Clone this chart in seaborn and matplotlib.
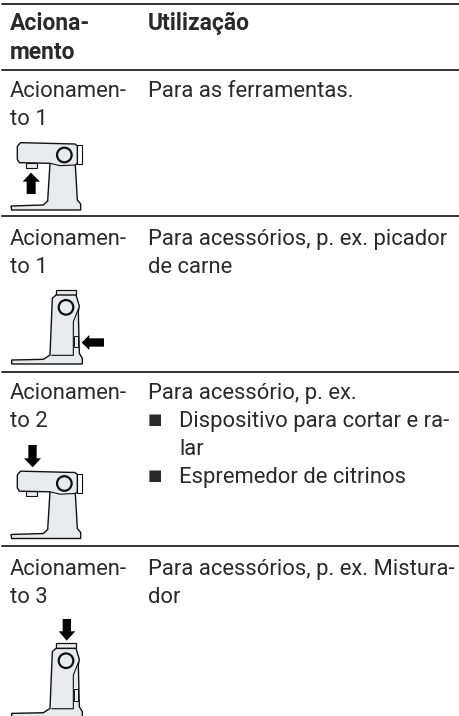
from matplotlib import pyplot as plt
from matplotlib.patches import Circle, Polygon, Rectangle
import pandas as pd
import seaborn as sns

# table content
header_left = ["Aciona-", "mento"]
header_right = ["Utilização"]
left_labels = [["Acionamen-", "to 1"], ["Acionamen-", "to 1"], ["Acionamen-", "to 2"], ["Acionamen-", "to 3"]]
right_labels = [
    ["Para as ferramentas."],
    ["Para acessórios, p. ex. picador", "de carne"],
    ["Para acessório, p. ex."],
    ["Para acessórios, p. ex. Mistura-", "dor"],
]
bullet_labels = ["Dispositivo para cortar e ra-", "lar", "Espremedor de citrinos"]
bullet_flags = [True, False, True]

# layout in pixels
rule_y = [4, 70, 216, 372, 546]
row_base = [97, 245, 399, 575]
line_gap = 29

INK = "#2a2a2a"
FILL = "#e9eaee"

sns.set_theme(style="white")
plt.rcParams["font.family"] = ["Roboto", "DejaVu Sans"]

fig, ax = plt.subplots(figsize=(4.6, 7.16), dpi=100)
ax.set_position([0, 0, 1, 1])

rules = pd.DataFrame({
    "x": [2, 460] * len(rule_y),
    "y": [y for y in rule_y for _ in range(2)],
    "rule": [i for i in range(len(rule_y)) for _ in range(2)],
})
sns.lineplot(data=rules, x="x", y="y", units="rule", estimator=None, color="#333333", lw=1.4, ax=ax, legend=False)
ax.set_xlim(0, 460)
ax.set_ylim(716, 0)
ax.axis("off")


def put(x, y, s, **kw):
    ax.text(x, y, s, fontsize=kw.pop("fontsize", 15.8), color=INK, va="baseline", ha="left",
            fontweight=kw.pop("fontweight", "normal"), **kw)


def arrow_shape(pts):
    ax.add_patch(Polygon([(x / 3, y / 3) for x, y in pts], closed=True, fc="black", ec="none", zorder=5))


def side_icon(dy, arrow):
    # mixer seen from the side, points are zoom px / 3
    outline = [(55, 435), (62, 428), (225, 432), (232, 438), (232, 490), (226, 495), (232, 600), (242, 612),
               (242, 630), (35, 630), (33, 618), (130, 615), (143, 603), (150, 490), (58, 488), (52, 478), (52, 440)]
    pts = [(x / 3, y / 3 + dy) for x, y in outline]
    ax.add_patch(Rectangle((232 / 3, 436 / 3 + dy), 15 / 3, 56 / 3, fc="white", ec="#111111", lw=0.8))
    ax.add_patch(Rectangle((77 / 3, 488 / 3 + dy), 35 / 3, 16 / 3, fc=FILL, ec="#111111", lw=0.8))
    ax.add_patch(Polygon(pts, closed=True, fc=FILL, ec="#111111", lw=1.0))
    ax.plot([150 / 3, 180 / 3, 226 / 3], [490 / 3 + dy, 497 / 3 + dy, 495 / 3 + dy], color="#111111", lw=0.8)
    ax.add_patch(Circle((193 / 3, 465 / 3 + dy), 7.3, fc=FILL, ec="#111111", lw=1.6))
    arrow_shape(arrow)


def front_icon(dy, arrow):
    outline = [(157, 295), (168, 285), (228, 285), (238, 318), (235, 335), (238, 460), (247, 475), (247, 492),
               (35, 492), (35, 480), (130, 478), (150, 465)]
    pts = [(x / 3, y / 3 + dy) for x, y in outline]
    ax.add_patch(Rectangle((168 / 3, 270 / 3 + dy), 60 / 3, 15 / 3, fc=FILL, ec="#111111", lw=0.9))
    ax.add_patch(Polygon(pts, closed=True, fc=FILL, ec="#111111", lw=1.0))
    ax.plot([155 / 3, 220 / 3, 220 / 3, 236 / 3], [466 / 3 + dy, 466 / 3 + dy, 365 / 3 + dy, 325 / 3 + dy],
            color="#111111", lw=0.8)
    ax.add_patch(Rectangle((222 / 3, 408 / 3 + dy), 13 / 3, 34 / 3, fc=FILL, ec="#111111", lw=0.7))
    ax.add_patch(Circle((198 / 3, 322 / 3 + dy), 7.3, fc=FILL, ec="#111111", lw=1.6))
    arrow_shape(arrow)


up_arrow = [(93, 518), (120, 545), (107, 545), (107, 582), (80, 582), (80, 545), (68, 545)]
left_arrow = [(245, 600 + 428), (268, 600 + 405), (268, 600 + 415), (312, 600 + 415),
              (312, 600 + 440), (268, 600 + 440), (268, 600 + 450)]
down_arrow = [(98, 1140 + 262), (72, 1140 + 235), (85, 1140 + 235), (85, 1140 + 195),
              (110, 1140 + 195), (110, 1140 + 235), (123, 1140 + 235)]
down_arrow2 = [(200, 1620 + 302), (176, 1620 + 274), (188, 1620 + 274), (188, 1620 + 237),
               (213, 1620 + 237), (213, 1620 + 274), (226, 1620 + 274)]

# header
for i, s in enumerate(header_left):
    put(10, 30 + i * line_gap, s, fontweight="bold", fontsize=16.5)
put(148, 30, header_right[0], fontweight="bold", fontsize=16.5)

# rows
for base, left, right in zip(row_base, left_labels, right_labels):
    for i, s in enumerate(left):
        put(10, base + i * (line_gap - 1), s)
    for i, s in enumerate(right):
        put(148, base + i * (line_gap - 1), s)

for i, (s, flag) in enumerate(zip(bullet_labels, bullet_flags)):
    y = 427 + i * 28
    if flag:
        ax.text(148, y - 3, "■", fontsize=11, color=INK, family="DejaVu Sans", va="baseline")
    put(179, y, s)

side_icon(0, up_arrow)
front_icon(200, left_arrow)
side_icon(328.5, down_arrow)
front_icon(553.4, down_arrow2)

fig.savefig("out.png", dpi=100)
